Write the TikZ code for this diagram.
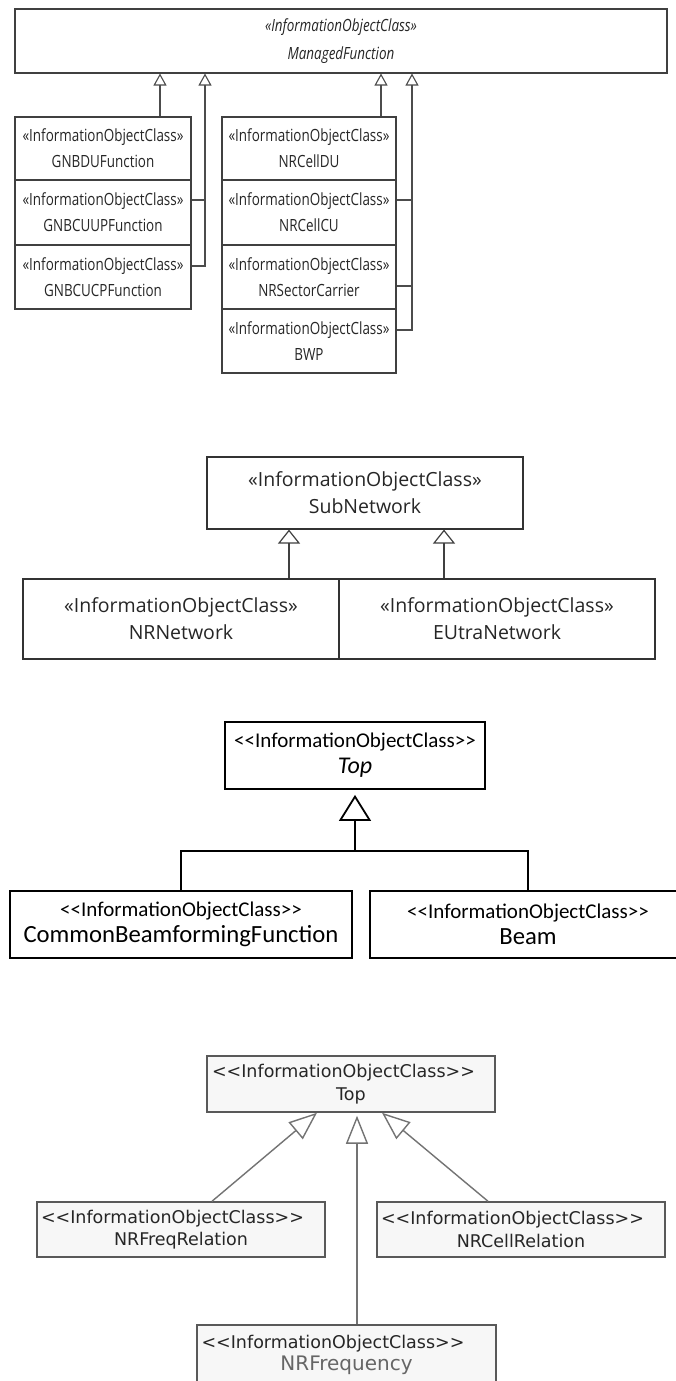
\documentclass[tikz,border=0pt]{standalone}
\usepackage{fontspec}
\usetikzlibrary{arrows.meta,calc}
\newfontfamily\fa[FakeStretch=0.8]{Open Sans}
\newfontfamily\fb{Open Sans}
\newfontfamily\fc{Carlito}
\newfontfamily\fd{DejaVu Sans}
\newcommand{\dlt}{<\kern0pt<}
\newcommand{\dgt}{>\kern0pt>}
\begin{document}
\begin{tikzpicture}[x=1pt,y=-1pt,
  d1box/.style={draw=black!75, line width=1.1pt, rectangle, inner sep=0pt, align=center, text=black!85, font=\fa\fontsize{16.8}{26}\selectfont},
  d1line/.style={draw=black!70, line width=1.1pt},
  d1gen/.style={d1line, -{Triangle[open, width=13pt, length=12pt]}},
  d2box/.style={draw=black!80, line width=1.1pt, rectangle, inner sep=0pt, align=center, text=black!85, font=\fb\fontsize{19.5}{27}\selectfont},
  d2gen/.style={draw=black!75, line width=1.2pt, -{Triangle[open, width=22pt, length=14pt]}},
  d3box/.style={draw=black, line width=1.8pt, rectangle, inner sep=0pt, align=center, font=\fc\fontsize{21}{26}\selectfont},
  d3line/.style={draw=black, line width=1.8pt},
  d3thick/.style={draw=black, line width=2.8pt},
  d4box/.style={draw=black!65, line width=1.5pt, fill=black!3, rectangle, inner sep=0pt, align=center, text=black!85, font=\fd\fontsize{17.5}{22.5}\selectfont},
  d4gen/.style={draw=black!55, line width=1.4pt, -{Triangle[open, width=22pt, length=28pt]}},
]
\useasboundingbox (0,0) rectangle (675,1381);
\fill[white] (0,0) rectangle (675,1381);

% ---------------- Diagram 1 ----------------
\node[d1box, minimum width=652pt, minimum height=64pt, font=\fa\itshape\fontsize{16.8}{28}\selectfont] (MF) at (341,41) {«InformationObjectClass»\\ManagedFunction};

\node[d1box, minimum width=176pt, minimum height=63pt] (GDU) at (103,148.5) {«InformationObjectClass»\\GNBDUFunction};
\node[d1box, minimum width=176pt, minimum height=65pt] (GUP) at (103,212.5) {«InformationObjectClass»\\GNBCUUPFunction};
\node[d1box, minimum width=176pt, minimum height=64pt] (GCP) at (103,277) {«InformationObjectClass»\\GNBCUCPFunction};

\node[d1box, minimum width=174pt, minimum height=63pt] (CDU) at (309,148.5) {«InformationObjectClass»\\NRCellDU};
\node[d1box, minimum width=174pt, minimum height=65pt] (CCU) at (309,212.5) {«InformationObjectClass»\\NRCellCU};
\node[d1box, minimum width=174pt, minimum height=64pt] (SC) at (309,277) {«InformationObjectClass»\\NRSectorCarrier};
\node[d1box, minimum width=174pt, minimum height=64pt] (BWP) at (309,341) {«InformationObjectClass»\\BWP};

\draw[d1gen] ([xshift=57pt]GDU.north) -- ([xshift=57pt]GDU.north |- MF.south);
\draw[d1gen] ([yshift=11pt]GCP.east) -| ([xshift=-136pt]MF.south);
\draw[d1line] ([yshift=12.5pt]GUP.east) -- ++(14,0);
\draw[d1gen] ([xshift=72pt]CDU.north) -- ([xshift=72pt]CDU.north |- MF.south);
\draw[d1gen] ([yshift=11pt]BWP.east) -| ([xshift=71pt]MF.south);
\draw[d1line] ([yshift=12.5pt]CCU.east) -- ++(16,0);
\draw[d1line] ([yshift=-9pt]SC.east) -- ++(16,0);

% ---------------- Diagram 2 ----------------
\node[d2box, minimum width=316pt, minimum height=72pt] (SN) at (365,493) {«InformationObjectClass»\\SubNetwork};
\node[d2box, minimum width=316pt, minimum height=80pt] (NRN) at (181,619) {«InformationObjectClass»\\NRNetwork};
\node[d2box, minimum width=316pt, minimum height=80pt] (EUN) at (497,619) {«InformationObjectClass»\\EUtraNetwork};
\draw[d2gen] ([xshift=108pt]NRN.north) -- ([xshift=108pt]NRN.north |- SN.south);
\draw[d2gen] ([xshift=-53pt]EUN.north) -- ([xshift=-53pt]EUN.north |- SN.south);

% ---------------- Diagram 3 ----------------
\node[d3box, minimum width=260pt, minimum height=67pt] (T3) at (355,755.5) {\dlt InformationObjectClass\dgt\\{\fontsize{24}{26}\selectfont\itshape Top}};
\node[d3box, minimum width=342pt, minimum height=67pt] (CBF) at (181,924.5) {\dlt InformationObjectClass\dgt\\{\fontsize{24.7}{26}\selectfont CommonBeamformingFunction}};
\node[d3box, minimum width=316pt, minimum height=67pt] (BEAM) at (528,924.5) {\dlt InformationObjectClass\dgt\\{\fontsize{24.7}{26}\selectfont Beam}};
\coordinate (J3) at ($(T3.south)+(0,61)$);
\draw[d3thick, -{Triangle[open, width=32pt, length=26pt, line width=1.8pt]}, shorten >=5pt] (J3) -- (T3.south);
\draw[d3line] (CBF.north) |- (J3) -| (BEAM.north);

% ---------------- Diagram 4 ----------------
\node[d4box, minimum width=288pt, minimum height=56pt, text width=278pt] (T4) at (351,1084) {\makebox[\linewidth][l]{\dlt InformationObjectClass\dgt}\\Top};
\node[d4box, minimum width=288pt, minimum height=55pt, text width=280pt] (NFR) at (181,1229.5) {\makebox[\linewidth][l]{\dlt InformationObjectClass\dgt}\\NRFreqRelation};
\node[d4box, minimum width=288pt, minimum height=55pt, text width=280pt] (NCR) at (521,1229.5) {\makebox[\linewidth][l]{\dlt InformationObjectClass\dgt}\\NRCellRelation};
\node[d4box, minimum width=299pt, minimum height=60pt, text width=290pt] (NF) at (346.5,1355) {\makebox[\linewidth][l]{\dlt InformationObjectClass\dgt}\\{\fontsize{20}{25}\selectfont\color{black!60}NRFrequency}};
\draw[d4gen, shorten >=3pt] ([xshift=10.5pt]NF.north) -- ([xshift=10.5pt]NF.north |- T4.south);
\draw[d4gen] ([xshift=31pt]NFR.north) -- ([xshift=-34pt]T4.south);
\draw[d4gen] ([xshift=-33pt]NCR.north) -- ([xshift=31pt]T4.south);
\end{tikzpicture}
\end{document}
